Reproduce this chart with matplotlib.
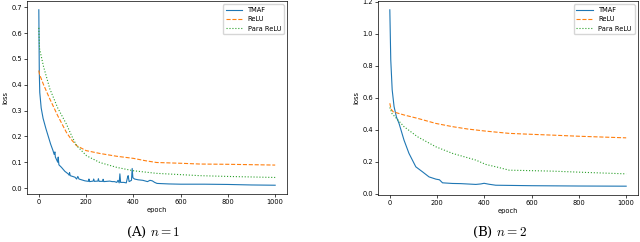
import matplotlib
matplotlib.use('Agg')
import matplotlib.pyplot as plt

# n = 1 curves (epoch, loss)
tmaf1_x = [0, 2, 4, 10, 18, 30, 40, 50, 60, 65, 68, 70, 75, 80, 82, 85, 96, 110, 124,
           128, 130, 133, 153, 160, 165, 170, 195, 210, 212, 215, 230, 232, 235, 250,
           252, 255, 270, 272, 275, 300, 310, 320, 330, 335, 340, 343, 346, 360, 370,
           375, 378, 382, 392, 395, 398, 405, 420, 440, 460, 470, 480, 490, 500, 550,
           600, 700, 800, 900, 1000]
tmaf1_y = [0.69, 0.45, 0.37, 0.31, 0.27, 0.23, 0.20, 0.17, 0.145, 0.13, 0.14, 0.12,
           0.11, 0.10, 0.12, 0.09, 0.08, 0.065, 0.055, 0.05, 0.06, 0.048, 0.042, 0.035,
           0.045, 0.035, 0.028, 0.026, 0.035, 0.025, 0.027, 0.035, 0.026, 0.027, 0.036,
           0.026, 0.026, 0.034, 0.025, 0.027, 0.025, 0.025, 0.022, 0.03, 0.02, 0.055,
           0.022, 0.022, 0.02, 0.04, 0.048, 0.025, 0.03, 0.076, 0.04, 0.035, 0.032,
           0.03, 0.025, 0.03, 0.028, 0.022, 0.018, 0.016, 0.015, 0.015, 0.014, 0.012,
           0.011]
relu1_x = [0, 3, 20, 47, 80, 117, 140, 160, 200, 258, 330, 400, 450, 498, 600, 682, 800, 1000]
relu1_y = [0.455, 0.44, 0.40, 0.344, 0.28, 0.215, 0.185, 0.164, 0.145, 0.134, 0.123,
           0.115, 0.106, 0.099, 0.096, 0.093, 0.092, 0.089]
para1_x = [0, 3, 20, 47, 80, 117, 140, 160, 202, 258, 330, 400, 498, 600, 682, 800, 1000]
para1_y = [0.62, 0.54, 0.47, 0.383, 0.31, 0.247, 0.20, 0.164, 0.125, 0.099, 0.08,
           0.067, 0.057, 0.052, 0.048, 0.045, 0.041]

# n = 2 curves
tmaf2_x = [0, 4, 10, 18, 28, 39, 60, 81, 110, 138, 166, 195, 210, 223, 265, 300, 364,
           385, 399, 420, 448, 600, 800, 1000]
tmaf2_y = [1.15, 0.837, 0.65, 0.545, 0.48, 0.44, 0.336, 0.253, 0.169, 0.138, 0.106,
           0.092, 0.088, 0.069, 0.065, 0.064, 0.059, 0.062, 0.066, 0.06, 0.054, 0.051,
           0.049, 0.048]
relu2_x = [0, 5, 14, 60, 117, 195, 265, 330, 406, 505, 600, 688, 800, 1000]
relu2_y = [0.566, 0.53, 0.513, 0.493, 0.472, 0.44, 0.42, 0.405, 0.392, 0.378, 0.372,
           0.367, 0.36, 0.35]
para2_x = [0, 10, 28, 60, 117, 195, 265, 364, 406, 460, 505, 600, 688, 829, 1000]
para2_y = [0.54, 0.50, 0.472, 0.42, 0.357, 0.294, 0.253, 0.211, 0.184, 0.165, 0.148,
           0.145, 0.142, 0.134, 0.125]

labels = ['TMAF', 'ReLU', 'Para ReLU']
captions = [r'(A) $n=1$', r'(B) $n=2$']

plt.rcParams['mathtext.fontset'] = 'cm'
plt.rcParams['font.size'] = 4.8
plt.rcParams['axes.linewidth'] = 0.5
plt.rcParams['xtick.major.width'] = 0.5
plt.rcParams['ytick.major.width'] = 0.5
plt.rcParams['xtick.major.size'] = 2
plt.rcParams['ytick.major.size'] = 2
plt.rcParams['xtick.major.pad'] = 1.5
plt.rcParams['ytick.major.pad'] = 1.5

fig = plt.figure(figsize=(6.4, 2.42), dpi=100)
ax1 = fig.add_axes([27 / 640, 48 / 242, 260 / 640, 193 / 242])
ax2 = fig.add_axes([378 / 640, 47 / 242, 260 / 640, 194 / 242])

data = [(tmaf1_x, tmaf1_y, relu1_x, relu1_y, para1_x, para1_y),
        (tmaf2_x, tmaf2_y, relu2_x, relu2_y, para2_x, para2_y)]

for ax, d in zip([ax1, ax2], data):
    ax.plot(d[0], d[1], '-', color='tab:blue', lw=0.8, label=labels[0])
    ax.plot(d[2], d[3], '--', color='tab:orange', lw=0.8, label=labels[1])
    ax.plot(d[4], d[5], ':', color='tab:green', lw=0.8, label=labels[2])
    ax.set_xlabel('epoch', labelpad=1.5)
    ax.set_ylabel('loss', labelpad=2)
    ax.set_xticks([0, 200, 400, 600, 800, 1000])
    ax.legend(loc='upper right', fontsize=4.8, borderaxespad=0.5, handlelength=2.5)

ax2.set_yticks([0.0, 0.2, 0.4, 0.6, 0.8, 1.0, 1.2])

fig.text(153 / 640, 10 / 242, captions[0], ha='center', va='center',
         fontsize=9.5, family='serif')
fig.text(499 / 640, 10 / 242, captions[1], ha='center', va='center',
         fontsize=9.5, family='serif')

fig.savefig('out.png', dpi=100)
